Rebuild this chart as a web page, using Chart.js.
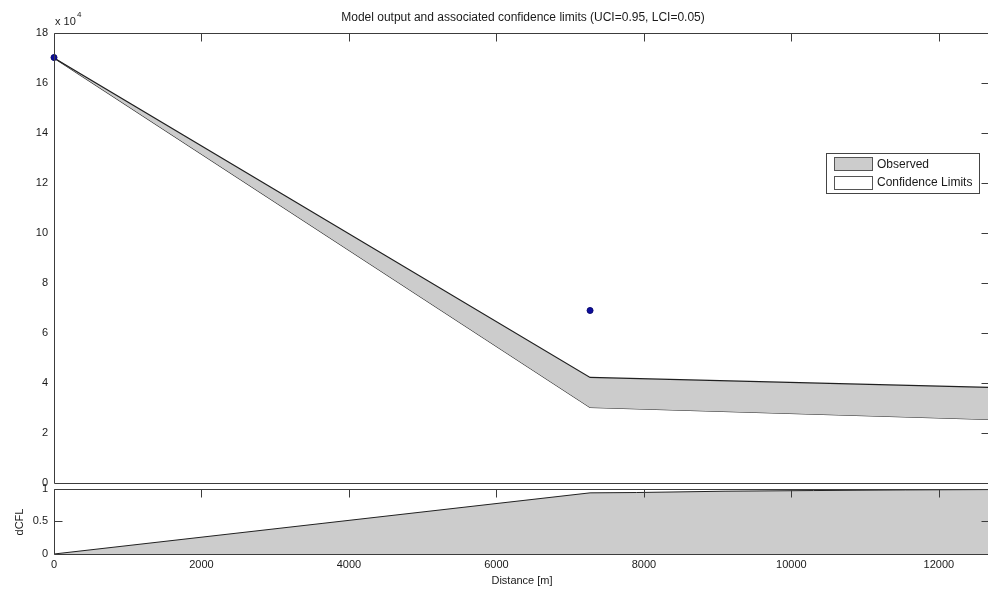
<!DOCTYPE html>
<html><head><meta charset="utf-8">
<script src="https://cdn.jsdelivr.net/npm/chart.js@4.4.1/dist/chart.umd.min.js"></script>
<style>
html,body{margin:0;padding:0;background:#fff;overflow:hidden;width:988px;height:591px;}
#wrap{position:relative;width:988px;height:591px;overflow:hidden;background:#fff;}
canvas{position:absolute;left:0;}
</style></head><body>
<div id="wrap">
<canvas id="topChart" width="995" height="496" style="top:0px;width:995px;height:496px"></canvas>
<canvas id="botChart" width="995" height="115" style="top:476px;width:995px;height:115px"></canvas>
</div>
<script>
// ---- data ----
const distance   = [0, 7270, 12680];
const upperLimit = [170000, 42350, 38350];
const lowerLimit = [170000, 30360, 25570];
const obsDistance = [0, 7270];
const obsValue    = [170200, 69100];
const dcflDistance = [0, 7270, 7900, 9100, 10300, 11550, 12680];
const dcflValue    = [0, 0.935, 0.94, 0.96, 0.97, 0.98, 0.985];
const xTicks    = [0, 2000, 4000, 6000, 8000, 10000, 12000];
const topYTicks = [0, 2, 4, 6, 8, 10, 12, 14, 16, 18]; // x 10^4
const botYTicks = [0, 0.5, 1];
const titleText = 'Model output and associated confidence limits (UCI=0.95, LCI=0.05)';
const legendLabels = ['Observed', 'Confidence Limits'];

const FONT = '"Liberation Sans", Arial, sans-serif';
const TXT = '#1a1a1a';
const FILL = '#cccccc';

function pts(xs, ys){ return xs.map((x,i)=>({x:x, y:ys[i]})); }

const framePlugin = {
  id: 'frame',
  afterDatasetsDraw(chart, args, o) {
    const {ctx, chartArea: a, scales: {x, y}} = chart;
    ctx.save();
    ctx.strokeStyle = '#3c3c3c';
    ctx.lineWidth = 1;
    const L = Math.round(a.left) + 0.5, T = Math.round(a.top) + 0.5;
    const R = Math.round(a.right) + 0.5, B = Math.round(a.bottom) + 0.5;
    ctx.beginPath();
    ctx.moveTo(L, T); ctx.lineTo(R, T); ctx.lineTo(R, B); ctx.lineTo(L, B); ctx.closePath();
    ctx.stroke();
    ctx.beginPath();
    const len = o.len || 8;
    xTicks.forEach(v => {
      const px = Math.round(x.getPixelForValue(v)) + 0.5;
      if (o.xTop) { ctx.moveTo(px, T); ctx.lineTo(px, T + len); }
    });
    o.yTicks.forEach(v => {
      const py = Math.round(y.getPixelForValue(v * o.yMul)) + 0.5;
      if (o.yLeft) { ctx.moveTo(L, py); ctx.lineTo(L + len, py); }
      if (o.yRight) { ctx.moveTo(R, py); ctx.lineTo(R - len, py); }
    });
    ctx.stroke();
    ctx.restore();
  }
};

const topTextPlugin = {
  id: 'topText',
  afterDraw(chart) {
    const {ctx} = chart;
    ctx.save();
    ctx.fillStyle = TXT;
    ctx.textBaseline = 'middle';
    ctx.textAlign = 'center';
    ctx.font = '12px ' + FONT;
    ctx.fillText(titleText, 523, 18);
    ctx.textAlign = 'left';
    ctx.font = '11px ' + FONT;
    ctx.fillText('x 10', 55, 22);
    ctx.font = '8px ' + FONT;
    ctx.fillText('4', 77, 15);
    // legend
    const bx = 826.5, by = 153.5, bw = 153, bh = 40;
    ctx.fillStyle = '#ffffff';
    ctx.fillRect(bx, by, bw, bh);
    ctx.strokeStyle = '#444';
    ctx.lineWidth = 1;
    ctx.strokeRect(bx, by, bw, bh);
    ctx.fillStyle = FILL;
    ctx.fillRect(834.5, 157.5, 38, 13);
    ctx.strokeStyle = '#555';
    ctx.strokeRect(834.5, 157.5, 38, 13);
    ctx.fillStyle = '#ffffff';
    ctx.fillRect(834.5, 176.5, 38, 13);
    ctx.strokeRect(834.5, 176.5, 38, 13);
    ctx.fillStyle = TXT;
    ctx.font = '12px ' + FONT;
    ctx.textBaseline = 'middle';
    ctx.fillText(legendLabels[0], 877, 165);
    ctx.fillText(legendLabels[1], 877, 183);
    ctx.restore();
  }
};

const botTextPlugin = {
  id: 'botText',
  afterDraw(chart) {
    const {ctx} = chart;
    ctx.save();
    ctx.fillStyle = TXT;
    ctx.font = '11px ' + FONT;
    ctx.textAlign = 'center';
    ctx.textBaseline = 'middle';
    ctx.fillText('Distance [m]', 522, 105);
    ctx.translate(20, 46);
    ctx.rotate(-Math.PI / 2);
    ctx.fillText('dCFL', 0, 0);
    ctx.restore();
  }
};

const topChart = new Chart(document.getElementById('topChart'), {
  type: 'line',
  data: {
    datasets: [
      { label: 'Upper', data: pts(distance, upperLimit), borderColor: '#202020', borderWidth: 1.2,
        pointRadius: 0, fill: '+1', backgroundColor: FILL, tension: 0, order: 2 },
      { label: 'Lower', data: pts(distance, lowerLimit), borderColor: '#2a2a2a', borderWidth: 1.2,
        pointRadius: 0, fill: false, tension: 0, order: 2 },
      { label: 'Observed', data: pts(obsDistance, obsValue), showLine: false, pointRadius: 3,
        pointBackgroundColor: '#0c0c9e', pointBorderColor: '#08086e', pointBorderWidth: 1, order: 1, clip: 5 }
    ]
  },
  options: {
    responsive: false, animation: false,
    layout: { padding: { left: 0, right: 6, top: 33, bottom: 1 } },
    plugins: {
      legend: { display: false }, tooltip: { enabled: false }, title: { display: false },
      frame: { xTop: true, yLeft: false, yRight: true, yTicks: topYTicks, yMul: 10000, len: 8 }
    },
    scales: {
      x: {
        type: 'linear', min: 0, max: 12680,
        ticks: { display: false }, grid: { display: false }, border: { display: false },
        afterFit: s => { s.height = 0; }
      },
      y: {
        type: 'linear', min: 0, max: 180000,
        afterBuildTicks: s => { s.ticks = topYTicks.map(v => ({ value: v * 10000 })); },
        ticks: { callback: v => String(v / 10000), font: { family: FONT, size: 11 }, color: TXT, padding: 6, autoSkip: false },
        grid: { display: false, drawTicks: false }, border: { display: false },
        afterFit: s => { s.width = 54; }
      }
    }
  },
  plugins: [framePlugin, topTextPlugin]
});

const botChart = new Chart(document.getElementById('botChart'), {
  type: 'line',
  data: {
    datasets: [
      { label: 'dCFL', data: pts(dcflDistance, dcflValue), borderColor: '#222', borderWidth: 1,
        pointRadius: 0, fill: 'origin', backgroundColor: FILL, tension: 0 }
    ]
  },
  options: {
    responsive: false, animation: false,
    layout: { padding: { left: 0, right: 6, top: 4, bottom: 0 } },
    plugins: {
      legend: { display: false }, tooltip: { enabled: false },
      frame: { xTop: true, yLeft: true, yRight: true, yTicks: botYTicks, yMul: 1, len: 8 }
    },
    scales: {
      x: {
        type: 'linear', min: 0, max: 12680,
        afterBuildTicks: s => { s.ticks = xTicks.map(v => ({ value: v })); },
        ticks: { callback: v => String(v), font: { family: FONT, size: 11 }, color: TXT, padding: 4, maxRotation: 0, autoSkip: false },
        grid: { display: false, drawTicks: false }, border: { display: false },
        afterFit: s => { s.height = 37; }
      },
      y: {
        type: 'linear', min: 0, max: 1,
        afterBuildTicks: s => { s.ticks = botYTicks.map(v => ({ value: v })); },
        ticks: { callback: v => String(v), font: { family: FONT, size: 11 }, color: TXT, padding: 6, autoSkip: false },
        grid: { display: false, drawTicks: false }, border: { display: false },
        afterFit: s => { s.width = 54; }
      }
    }
  },
  plugins: [framePlugin, botTextPlugin]
});
</script>
</body></html>
